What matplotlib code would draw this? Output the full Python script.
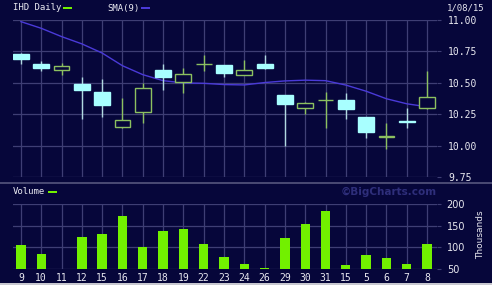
import matplotlib
matplotlib.use("Agg")
import matplotlib.pyplot as plt
from matplotlib.patches import Rectangle
from matplotlib.lines import Line2D
import numpy as np

# ---------------- data ----------------
dates = ["9", "10", "11", "12", "15", "16", "17", "18", "19", "22", "23",
         "24", "26", "29", "30", "31", "15", "5", "6", "7", "8"]
opens  = [10.73, 10.65, 10.60, 10.49, 10.43, 10.15, 10.27, 10.60, 10.51, 10.65, 10.64,
          10.56, 10.65, 10.40, 10.30, 10.36, 10.36, 10.23, 10.065, 10.192, 10.30]
highs  = [10.74, 10.67, 10.66, 10.55, 10.53, 10.38, 10.50, 10.65, 10.62, 10.72, 10.64,
          10.68, 10.72, 10.40, 10.35, 10.43, 10.42, 10.23, 10.18, 10.30, 10.59]
lows   = [10.65, 10.59, 10.56, 10.21, 10.23, 10.14, 10.18, 10.44, 10.42, 10.59, 10.55,
          10.56, 10.61, 10.00, 10.25, 10.14, 10.21, 10.06, 9.97, 10.14, 10.29]
closes = [10.69, 10.62, 10.63, 10.44, 10.32, 10.20, 10.46, 10.55, 10.57, 10.65, 10.58,
          10.60, 10.62, 10.33, 10.34, 10.36, 10.29, 10.11, 10.075, 10.188, 10.39]
sma9   = [10.987, 10.934, 10.868, 10.810, 10.737, 10.636, 10.565, 10.517, 10.499, 10.496, 10.486,
          10.483, 10.502, 10.515, 10.521, 10.517, 10.482, 10.433, 10.373, 10.333, 10.309]
volume = [105, 85, 45, 125, 130, 173, 100, 138, 143, 108, 78,
          61, 53, 121, 154, 185, 59, 82, 75, 61, 108]
price_ticks = [9.75, 10.00, 10.25, 10.50, 10.75, 11.00]
vol_ticks = [50, 100, 150, 200]

# ---------------- style ----------------
W, H = 492, 285
BG = "#06063a"
GRID = "#3e3e74"
TXT = "#e8e8f0"
UPC = "#8cc060"
DNC = "#a8ffff"
DNW = "#b0d8e0"
VOLC = "#72f000"
SMAC = "#4a3ad8"

fig = plt.figure(figsize=(W / 100, H / 100), dpi=100, facecolor=BG)

def fx(x):
    return x / W

def fy(y):
    return 1 - y / H

x = np.arange(len(dates))
xl = (-0.39, len(dates) - 1 + 0.49)

# price axes
axp = fig.add_axes([fx(13), fy(177), fx(437) - fx(13), fy(20) - fy(177)], facecolor=BG)
axp.set_xlim(*xl)
axp.set_ylim(9.75, 11.00)
for s in axp.spines.values():
    s.set_visible(False)
axp.set_xticks(x)
axp.set_yticks(price_ticks)
axp.grid(True, color=GRID, lw=0.9)
axp.set_axisbelow(True)
axp.tick_params(axis="x", length=0, labelbottom=False)
axp.yaxis.tick_right()
axp.tick_params(axis="y", length=3, color=GRID, pad=5, labelsize=7, labelcolor=TXT)
axp.set_yticklabels([f"{t:.2f}" for t in price_ticks], family="DejaVu Sans Mono")

axp.plot(x, sma9, color=SMAC, lw=1.0, zorder=2)

bw = 0.78
for i in range(len(dates)):
    o, h, l, c = opens[i], highs[i], lows[i], closes[i]
    up = c >= o
    wc = UPC if up else DNW
    axp.vlines(x[i], l, h, color=wc, lw=1.0, zorder=3)
    lo, hi = min(o, c), max(o, c)
    if up:
        axp.bar(x[i], hi - lo, bottom=lo, width=bw, facecolor=BG if hi - lo > 0.015 else "none",
                edgecolor=UPC, lw=1.0, zorder=4)
    else:
        axp.bar(x[i], hi - lo, bottom=lo, width=bw, facecolor=DNC, edgecolor=DNC, lw=1.0, zorder=4)

# volume axes
axv = fig.add_axes([fx(13), fy(269), fx(437) - fx(13), fy(204) - fy(269)], facecolor=BG)
axv.set_xlim(*xl)
axv.set_ylim(50, 200)
for s in axv.spines.values():
    s.set_visible(False)
axv.set_xticks(x)
axv.set_xticklabels(dates, family="DejaVu Sans Mono")
axv.set_yticks(vol_ticks)
axv.grid(True, color=GRID, lw=0.9)
axv.set_axisbelow(True)
axv.tick_params(axis="x", length=0, pad=3, labelsize=7, labelcolor=TXT)
axv.yaxis.tick_right()
axv.tick_params(axis="y", length=3, color=GRID, pad=4, labelsize=7, labelcolor=TXT)
axv.bar(x, volume, width=0.46, color=VOLC, zorder=3)

# separators / borders
fig.add_artist(Line2D([0, 1], [fy(182.5), fy(182.5)], color="#56567e", lw=1.2))
fig.add_artist(Rectangle((0, 0), 1, fy(282.5), color="#c8c8d0", lw=0))

# legends and labels
fig.text(fx(13), fy(8), "IHD Daily", color=TXT, fontsize=6.5, family="DejaVu Sans Mono", va="center")
fig.add_artist(Rectangle((fx(63), fy(9.2)), fx(9), fy(6.8) - fy(9.2), color=VOLC, lw=0))
fig.text(fx(107), fy(8), "SMA(9)", color=TXT, fontsize=6.5, family="DejaVu Sans Mono", va="center")
fig.add_artist(Rectangle((fx(141), fy(9.2)), fx(9), fy(6.8) - fy(9.2), color=SMAC, lw=0))
fig.text(fx(447), fy(8), "1/08/15", color=TXT, fontsize=6.5, family="DejaVu Sans Mono", va="center")

fig.text(fx(13), fy(192), "Volume", color=TXT, fontsize=6.5, family="DejaVu Sans Mono", va="center")
fig.add_artist(Rectangle((fx(48), fy(193.3)), fx(9), fy(191) - fy(193.3), color=VOLC, lw=0))
fig.text(fx(437), fy(192), "\u00a9BigCharts.com", color="#2e2e7a", fontsize=7.5,
         fontweight="bold", ha="right", va="center")
fig.text(fx(481), fy(235), "Thousands", color=TXT, fontsize=6.5, rotation=90,
         ha="center", va="center")

fig.savefig("out.png", dpi=100, facecolor=BG)
